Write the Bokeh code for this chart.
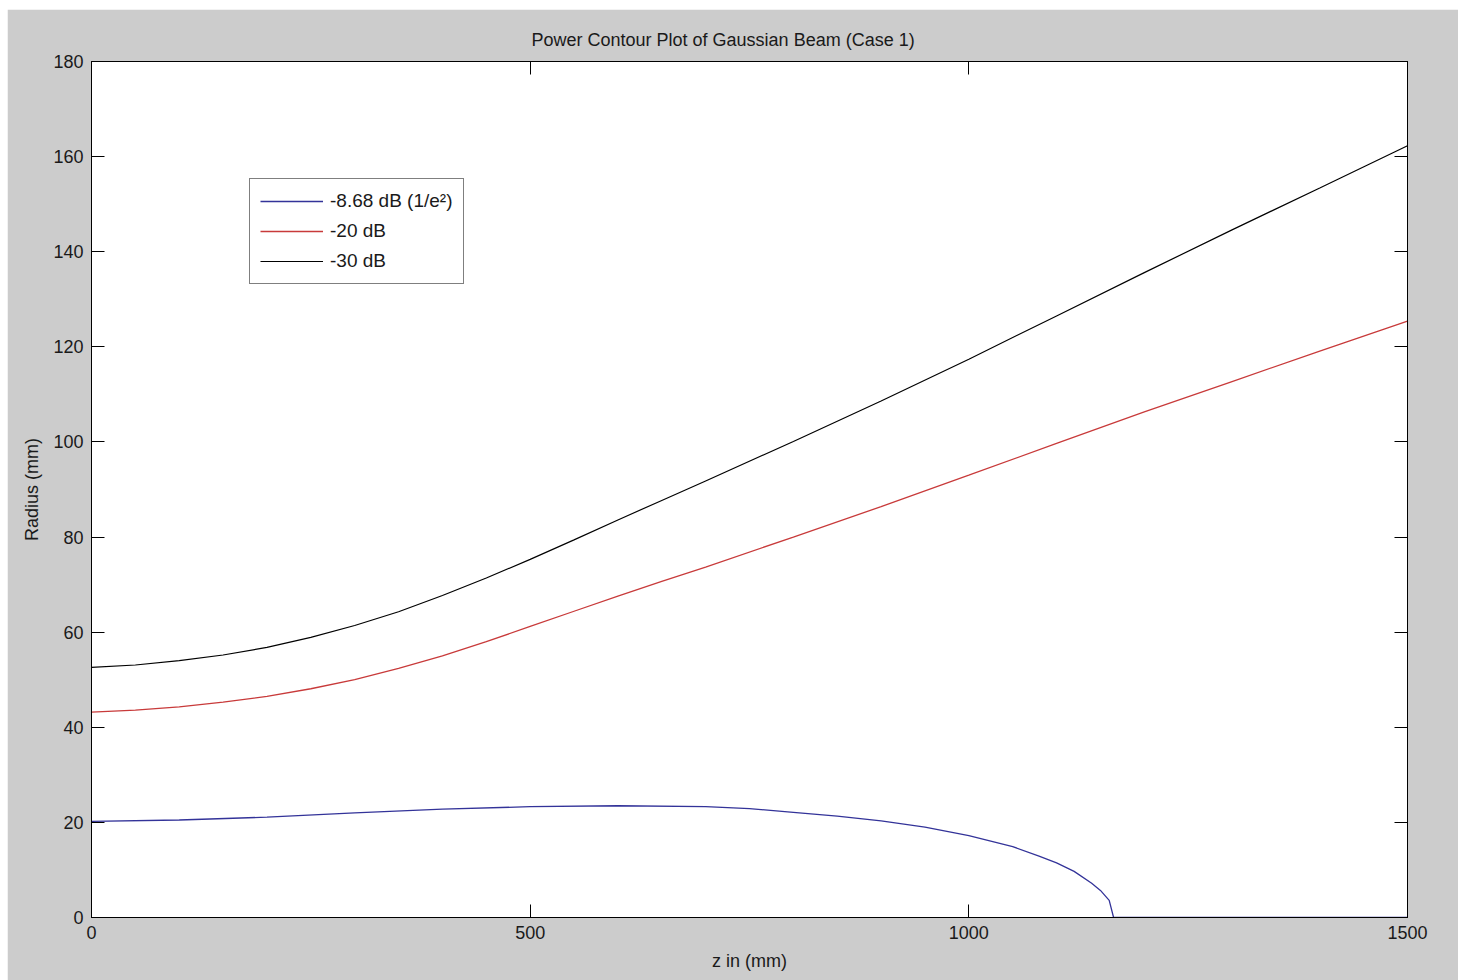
from bokeh.plotting import figure
from bokeh.models import Range1d, FixedTicker, LinearAxis, Legend, LegendItem, CustomJSTickFormatter
from bokeh.embed import file_html
from bokeh.resources import INLINE

# ---- data ----
z_mm = [0, 50, 100, 150, 200, 250, 300, 350, 400, 450, 500, 550, 600, 650, 700, 800, 900, 1000, 1100, 1200, 1300, 1400, 1500]
r_30db = [52.6, 53.1, 54.0, 55.2, 56.8, 58.9, 61.4, 64.3, 67.7, 71.4, 75.3, 79.4, 83.6, 87.7, 91.8, 100.1, 108.6, 117.4, 126.5, 135.6, 144.6, 153.4, 162.3]
r_20db = [43.2, 43.6, 44.3, 45.3, 46.5, 48.1, 50.0, 52.4, 55.0, 58.0, 61.2, 64.4, 67.6, 70.7, 73.7, 80.0, 86.4, 93.0, 99.7, 106.3, 112.7, 119.1, 125.4]

z_blue = [0, 100, 200, 300, 400, 500, 600, 700, 750, 800, 850, 900, 950, 1000, 1050, 1080, 1100, 1120, 1140, 1150, 1160, 1165, 1500]
r_868db = [20.2, 20.5, 21.1, 22.0, 22.8, 23.3, 23.5, 23.3, 22.9, 22.1, 21.3, 20.3, 19.0, 17.2, 14.9, 12.9, 11.5, 9.7, 7.2, 5.7, 3.6, 0.0, 0.0]

x_ticks = [0, 500, 1000, 1500]
y_ticks = [0, 20, 40, 60, 80, 100, 120, 140, 160, 180]

labels = ["-8.68 dB (1/e\u00b2)", "-20 dB", "-30 dB"]
colors = ["#333399", "#c83a3a", "#000000"]

FONT = "Liberation Sans"
BG = "#cccccc"

p = figure(
    output_backend="svg", toolbar_location=None,
    frame_width=1316, frame_height=856,
    min_border_left=84, min_border_right=51, min_border_top=52, min_border_bottom=63,
    x_range=Range1d(0, 1500), y_range=Range1d(0, 180),
    background_fill_color="white", border_fill_color=BG,
    margin=(9, 0, 0, 7),
)
p.grid.visible = False
p.outline_line_color = "black"
p.outline_line_width = 1

p.title.text = "Power Contour Plot of Gaussian Beam (Case 1)"
p.title.text_font = FONT
p.title.text_font_size = "18px"
p.title.text_font_style = "normal"
p.title.text_color = "#1a1a1a"
p.title.align = "left"
p.title.offset = 440
p.title.standoff = 23

def style_axis(ax, show_labels=True):
    ax.axis_line_color = "black"
    ax.major_tick_line_color = "black"
    ax.major_tick_in = 13
    ax.major_tick_out = 0
    ax.minor_tick_line_color = None
    ax.major_label_text_font = FONT
    ax.major_label_text_font_size = "18px"
    ax.major_label_text_color = "#1a1a1a"
    ax.axis_label_text_font = FONT
    ax.axis_label_text_font_size = "18px"
    ax.axis_label_text_font_style = "normal"
    ax.axis_label_text_color = "#1a1a1a"
    if not show_labels:
        ax.formatter = CustomJSTickFormatter(code="return ''")
        ax.major_label_standoff = 0

xax = p.xaxis[0]
yax = p.yaxis[0]
xax.ticker = FixedTicker(ticks=x_ticks)
yax.ticker = FixedTicker(ticks=y_ticks)
style_axis(xax)
style_axis(yax)
xax.axis_label = "z in (mm)"
yax.axis_label = "Radius (mm)"
xax.major_label_standoff = 8
yax.major_label_standoff = 8
xax.axis_label_standoff = 9
yax.axis_label_standoff = 8

top_ax = LinearAxis(ticker=FixedTicker(ticks=x_ticks))
right_ax = LinearAxis(ticker=FixedTicker(ticks=y_ticks))
style_axis(top_ax, show_labels=False)
style_axis(right_ax, show_labels=False)
p.add_layout(top_ax, "above")
p.add_layout(right_ax, "right")

r1 = p.line(z_blue, r_868db, line_color=colors[0], line_width=1.3)
r2 = p.line(z_mm, r_20db, line_color=colors[1], line_width=1.3)
r3 = p.line(z_mm, r_30db, line_color=colors[2], line_width=1.2)

legend = Legend(
    items=[LegendItem(label=labels[0], renderers=[r1]),
           LegendItem(label=labels[1], renderers=[r2]),
           LegendItem(label=labels[2], renderers=[r3])],
    location=(158, 633),
    orientation="vertical",
    border_line_color="black", border_line_width=1,
    background_fill_color="white", background_fill_alpha=1.0,
    label_text_font=FONT, label_text_font_size="19px", label_text_color="#1a1a1a",
    glyph_width=63, glyph_height=24, label_height=24, label_standoff=7,
    spacing=6, padding=10, margin=0,
)
p.add_layout(legend, "center")

open("out.html", "w").write(file_html(p, INLINE))
